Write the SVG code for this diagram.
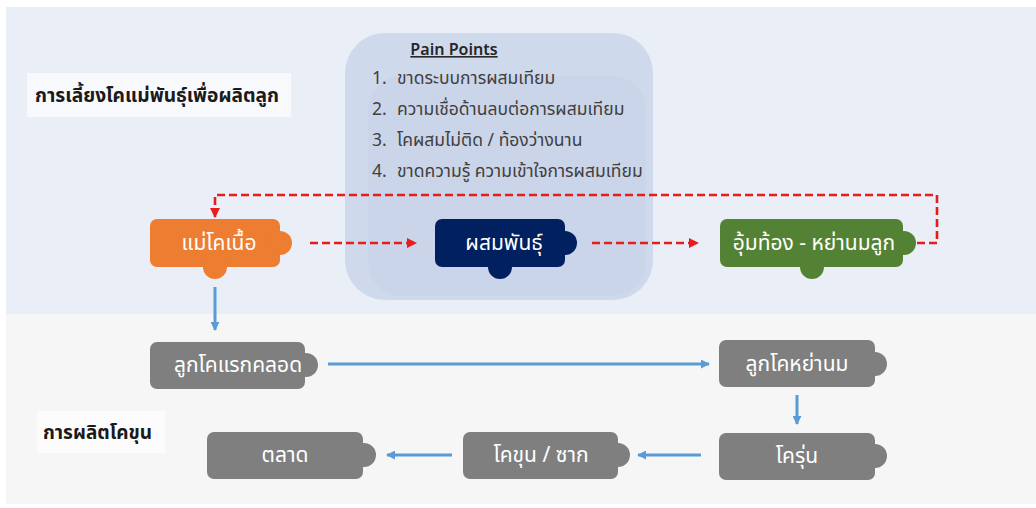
<svg xmlns="http://www.w3.org/2000/svg" width="1036" height="508" viewBox="0 0 1036 508">
<defs>
<style>
.th{font-family:"Noto Sans Thai","Noto Sans","Liberation Sans",sans-serif;}
.nodeText{font-size:21px;fill:#ffffff;text-anchor:middle;}
.label{font-weight:bold;fill:#1a1a1a;}
.pp{font-size:17.5px;fill:#404040;}
.red{fill:none;stroke:#e81c1c;stroke-width:2.6;stroke-dasharray:8 4;}
.blue{fill:none;stroke:#5b9bd5;stroke-width:3;}
</style>
<marker id="ra" viewBox="0 0 10 10" refX="9" refY="5" markerWidth="4" markerHeight="4" orient="auto" markerUnits="strokeWidth">
<path d="M0,0 L10,5 L0,10 z" fill="#e81c1c"/>
</marker>
<marker id="ba" viewBox="0 0 10 10" refX="9" refY="5" markerWidth="3" markerHeight="3" orient="auto" markerUnits="strokeWidth">
<path d="M0,0 L10,5 L0,10 z" fill="#5b9bd5"/>
</marker>
</defs>

<rect x="0" y="0" width="1036" height="508" fill="#ffffff"/>
<rect x="6" y="7" width="1030" height="307" fill="#eaeef7"/>
<rect x="6" y="314" width="1030" height="190" fill="#f6f6f6"/>

<g id="painpoints">
<rect x="345" y="33" width="308" height="267" rx="40" fill="#cfd9ec"/>
<rect x="368" y="76" width="278" height="220" rx="34" fill="#c6d1e7" opacity="0.45"/>
<text class="th" x="454" y="55" font-size="16" font-weight="600" fill="#262626" text-anchor="middle" text-decoration="underline">Pain Points</text>
<text class="th pp" x="372" y="84">1.</text>
<text class="th pp" x="397" y="84">ขาดระบบการผสมเทียม</text>
<text class="th pp" x="372" y="115">2.</text>
<text class="th pp" x="397" y="115">ความเชื่อด้านลบต่อการผสมเทียม</text>
<text class="th pp" x="372" y="146">3.</text>
<text class="th pp" x="397" y="146">โคผสมไม่ติด / ท้องว่างนาน</text>
<text class="th pp" x="372" y="177">4.</text>
<text class="th pp" x="397" y="177">ขาดความรู้ ความเข้าใจการผสมเทียม</text>
</g>

<g id="label-breeding">
<rect x="27" y="73" width="264" height="44" fill="#f8f9fc"/>
<text class="th label" x="35" y="102" font-size="19.2">การเลี้ยงโคแม่พันธุ์เพื่อผลิตลูก</text>
</g>

<g id="label-fattening">
<rect x="37" y="411" width="128" height="42" fill="#fcfcfc"/>
<text class="th label" x="43" y="439" font-size="19">การผลิตโคขุน</text>
</g>

<g id="connectors">
<path class="red" d="M917,243 H937 V195 H215 V217" marker-end="url(#ra)"/>
<path class="red" d="M310,243 H416" marker-end="url(#ra)"/>
<path class="red" d="M592,243 H698" marker-end="url(#ra)"/>
<path class="blue" d="M215,287 V330" stroke-width="4" marker-end="url(#ba)"/>
<path class="blue" d="M328,364 H709" marker-end="url(#ba)"/>
<path class="blue" d="M797,395 V424" stroke-width="3.5" marker-end="url(#ba)"/>
<path class="blue" d="M701,455 H638" marker-end="url(#ba)"/>
<path class="blue" d="M452,455 H387" marker-end="url(#ba)"/>
</g>

<g id="node-mother">
<rect x="150" y="219" width="130" height="48" rx="7" fill="#ed7d31"/>
<circle cx="280" cy="243" r="12" fill="#ed7d31"/>
<circle cx="215" cy="267" r="12" fill="#ed7d31"/>
<text class="th nodeText" x="219" y="250">แม่โคเนื้อ</text>
</g>

<g id="node-breed">
<rect x="435" y="219" width="130" height="48" rx="7" fill="#002060"/>
<circle cx="565" cy="243" r="12" fill="#002060"/>
<circle cx="500" cy="267" r="12" fill="#002060"/>
<text class="th nodeText" x="504" y="250">ผสมพันธุ์</text>
</g>

<g id="node-pregnant">
<rect x="720" y="219" width="183" height="48" rx="7" fill="#548235"/>
<circle cx="904" cy="243" r="12" fill="#548235"/>
<circle cx="812" cy="267" r="12" fill="#548235"/>
<text class="th nodeText" x="814" y="250">อุ้มท้อง - หย่านมลูก</text>
</g>

<g id="node-newborn">
<rect x="150" y="342" width="155" height="47" rx="7" fill="#7f7f7f"/>
<circle cx="306" cy="365" r="12" fill="#7f7f7f"/>
<text class="th nodeText" x="238" y="372" font-size="20">ลูกโคแรกคลอด</text>
</g>

<g id="node-weaned">
<rect x="719" y="340" width="156" height="47" rx="7" fill="#7f7f7f"/>
<circle cx="875" cy="364" r="12" fill="#7f7f7f"/>
<text class="th nodeText" x="797" y="371" font-size="21">ลูกโคหย่านม</text>
</g>

<g id="node-young">
<rect x="719" y="433" width="156" height="47" rx="7" fill="#7f7f7f"/>
<circle cx="875" cy="456" r="12" fill="#7f7f7f"/>
<text class="th nodeText" x="797" y="463" font-size="20">โครุ่น</text>
</g>

<g id="node-fattened">
<rect x="463" y="432" width="155" height="47" rx="7" fill="#7f7f7f"/>
<circle cx="618" cy="455" r="12" fill="#7f7f7f"/>
<text class="th nodeText" x="541" y="462" font-size="20">โคขุน / ซาก</text>
</g>

<g id="node-market">
<rect x="207" y="432" width="156" height="47" rx="7" fill="#7f7f7f"/>
<circle cx="364" cy="455" r="12" fill="#7f7f7f"/>
<text class="th nodeText" x="285" y="462" font-size="20">ตลาด</text>
</g>
</svg>
